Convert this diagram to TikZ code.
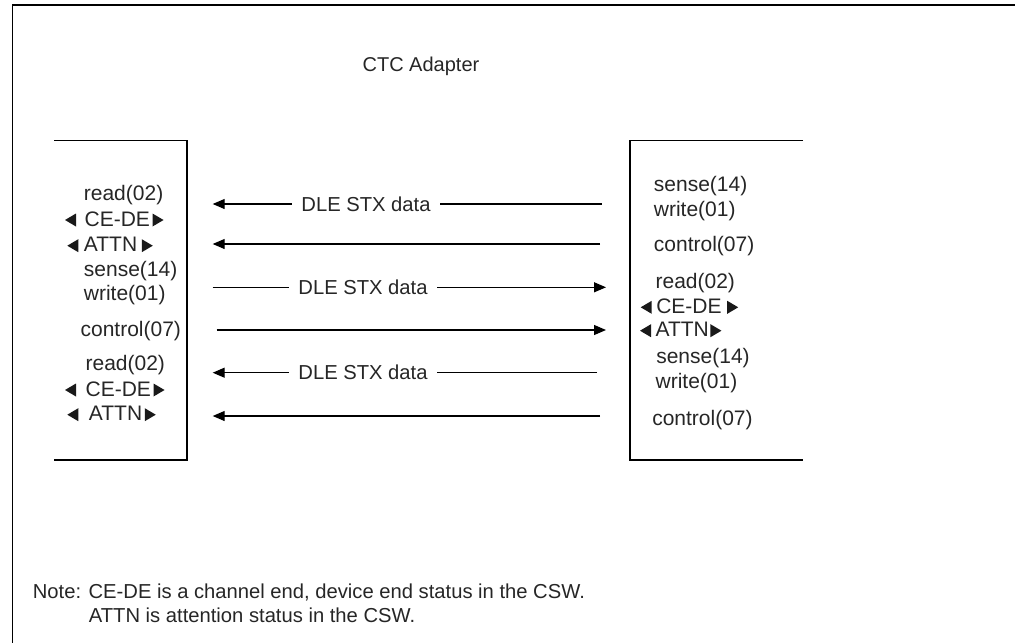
\documentclass[tikz,border=0pt]{standalone}
\usepackage{fontspec}
\setmainfont{Liberation Sans}
\usetikzlibrary{arrows.meta}
% filled status triangles placed beside a label node: #1 = node name, #2 = gap (pt)
\newcommand\trileft[2]{\fill[tri] ([xshift=-#2pt]#1.base west) ++(-11,-6) -- ++(11,-6.5) -- ++(0,13) -- cycle;}
\newcommand\triright[2]{\fill[tri] ([xshift=#2pt]#1.base east) ++(0,-12.5) -- ++(0,13) -- ++(11,-6.5) -- cycle;}
\begin{document}
\begin{tikzpicture}[x=1pt,y=-1pt,line width=1.2pt,
  lbl/.style={anchor=base west,inner sep=0pt,text=black!85,font=\fontsize{21}{25}\selectfont},
  ttl/.style={anchor=base west,inner sep=0pt,text=black!85,font=\fontsize{20}{24}\selectfont},
  notetext/.style={anchor=base west,inner sep=0pt,text=black!85,font=\fontsize{20.2}{24}\selectfont},
  msg/.style={draw,-{Triangle[length=12pt,width=10pt]}},
  dle/.style={fill=white,inner xsep=9pt,inner ysep=1pt,anchor=base,text=black!85,font=\fontsize{20.2}{24}\selectfont},
  tri/.style={fill=black!90},
  frame/.style={draw,line width=1.3pt}]
\useasboundingbox (0,0) rectangle (1015,643);
% outer frame
\draw[frame] (1015,5) -- (12.7,5) -- (12.7,643);
% boxes
\draw[frame] (54,140.7) -- (187,140.7) -- (187,460) -- (54,460);
\draw[frame] (803,140.7) -- (630,140.7) -- (630,460) -- (803,460);
% title
\node[ttl] (title) at (362,71.7) {CTC Adapter};
% left column
\node[lbl] (l1) at (83.3,200.7) {read(02)};
\node[lbl] (l2) at (84,226) {CE-DE};
\node[lbl] (l3) at (83.3,251.7) {ATTN};
\node[lbl] (l4) at (83.3,276.7) {sense(14)};
\node[lbl] (l5) at (83.3,300.7) {write(01)};
\node[lbl] (l6) at (80,336.7) {control(07)};
\node[lbl] (l7) at (85,370) {read(02)};
\node[lbl] (l8) at (85,396) {CE-DE};
\node[lbl] (l9) at (88.3,420.7) {ATTN};
\trileft{l2}{8}  \triright{l2}{2}
\trileft{l3}{5}  \triright{l3}{4}
\trileft{l8}{9}  \triright{l8}{2}
\trileft{l9}{10} \triright{l9}{2}
% right column
\node[lbl] (r1) at (653.3,191.7) {sense(14)};
\node[lbl] (r2) at (653.3,216) {write(01)};
\node[lbl] (r3) at (653.3,251.7) {control(07)};
\node[lbl] (r4) at (655,288.3) {read(02)};
\node[lbl] (r5) at (655.7,313.3) {CE-DE};
\node[lbl] (r6) at (655,336.7) {ATTN};
\node[lbl] (r7) at (655.7,363.3) {sense(14)};
\node[lbl] (r8) at (655,388.3) {write(01)};
\node[lbl] (r9) at (651.7,425) {control(07)};
\trileft{r5}{4} \triright{r5}{5}
\trileft{r6}{4} \triright{r6}{1}
% arrow end points
\coordinate (a1s) at (601.7,204);   \coordinate (a1e) at (212.7,204);
\coordinate (a2s) at (600,244);     \coordinate (a2e) at (212.7,244);
\coordinate (a3s) at (212.7,287.3); \coordinate (a3e) at (606,287.3);
\coordinate (a4s) at (216.7,330);   \coordinate (a4e) at (606,330);
\coordinate (a5s) at (597,372.7);   \coordinate (a5e) at (212.7,372.7);
\coordinate (a6s) at (600,416);     \coordinate (a6e) at (212.7,416);
\draw[msg] (a1s) -- (a1e);
\draw[msg] (a2s) -- (a2e);
\draw[msg] (a3s) -- (a3e);
\draw[msg] (a4s) -- (a4e);
\draw[msg] (a5s) -- (a5e);
\draw[msg] (a6s) -- (a6e);
\node[dle] (d1) at (366,211.2) {DLE STX data};
\node[dle] (d3) at (363,294.5) {DLE STX data};
\node[dle] (d5) at (363,379.9) {DLE STX data};
% note
\node[notetext] (n1) at (32.3,598) {Note: CE-DE is a channel end, device end status in the CSW.};
\node[notetext] (n2) at (88.3,622.5) {ATTN is attention status in the CSW.};
\end{tikzpicture}
\end{document}
